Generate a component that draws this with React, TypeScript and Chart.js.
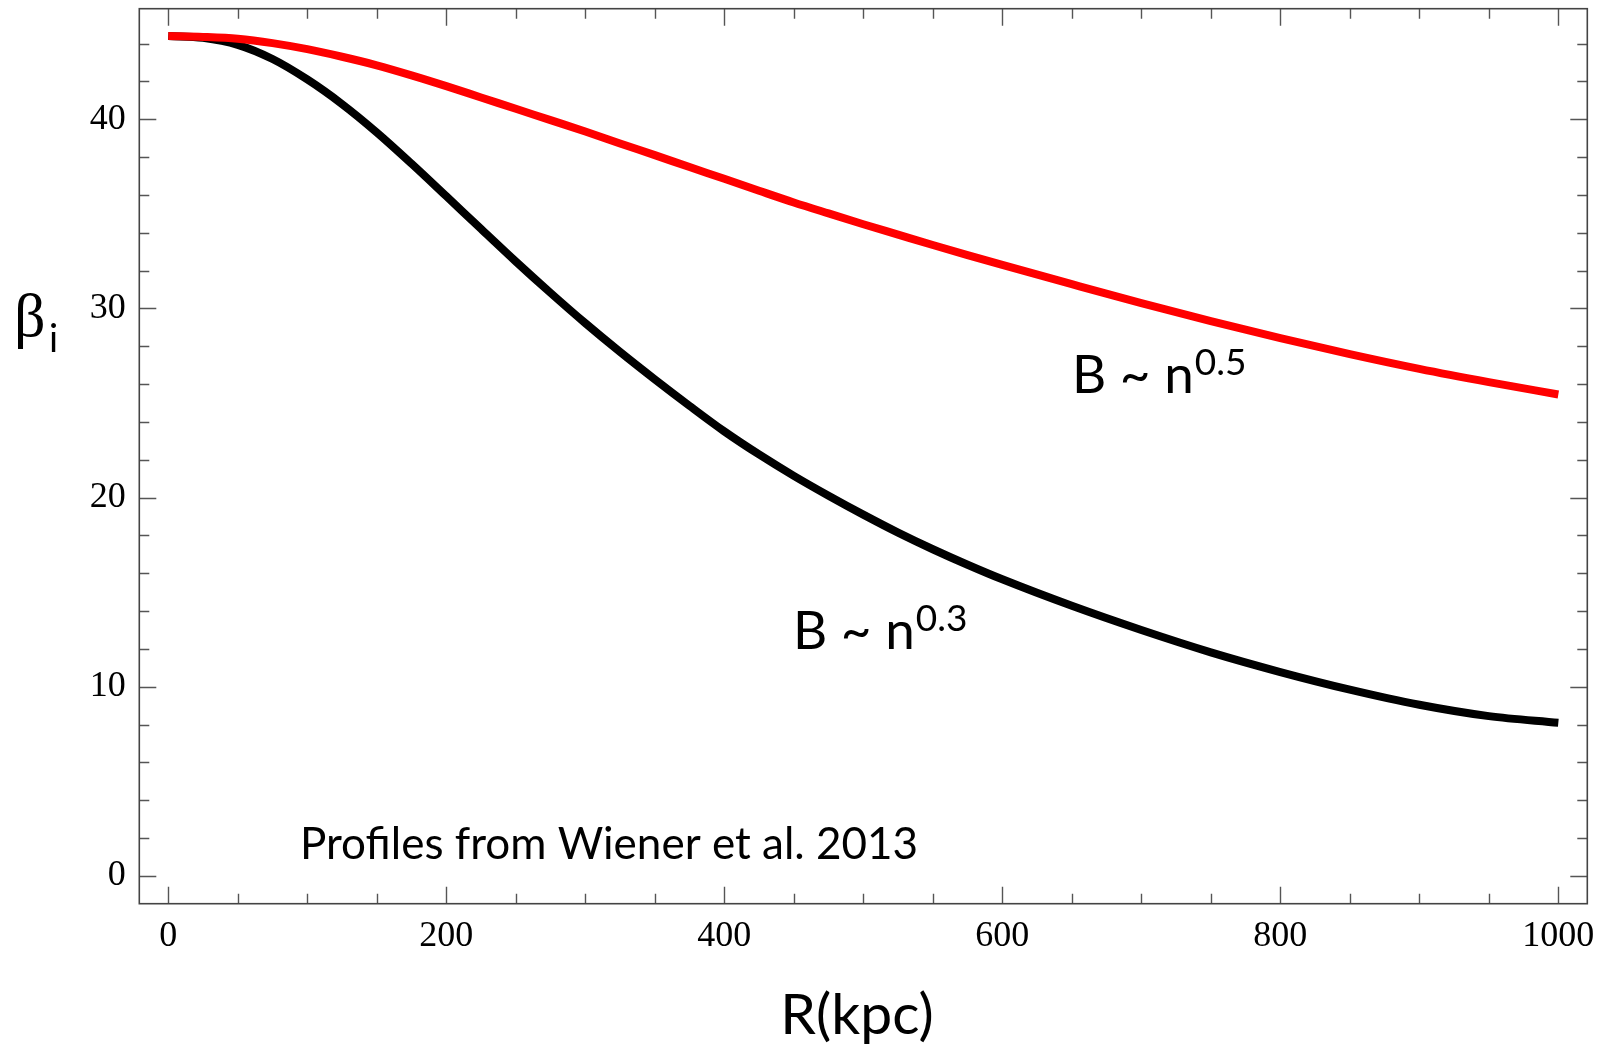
import React, { useEffect, useRef } from "react";
import { Chart, registerables } from "chart.js";

Chart.register(...registerables);

// Radius (kpc)
const radiusKpc = [
  0, 25, 50, 75, 100, 125, 150, 175, 200, 225, 250, 275, 300, 325, 350, 375, 400,
  425, 450, 475, 500, 525, 550, 575, 600, 650, 700, 750, 800, 850, 900, 950, 1000,
];
// beta_i for B ~ n^0.5 (red)
const betaN05 = [
  44.4, 44.35, 44.25, 44.02, 43.7, 43.3, 42.85, 42.32, 41.75, 41.15, 40.55, 39.95,
  39.35, 38.72, 38.1, 37.47, 36.85, 36.22, 35.6, 35.02, 34.45, 33.9, 33.35, 32.82,
  32.3, 31.28, 30.28, 29.33, 28.43, 27.58, 26.8, 26.1, 25.45,
];
// beta_i for B ~ n^0.3 (black)
const betaN03 = [
  44.4, 44.3, 43.93, 43.18, 42.1, 40.8, 39.3, 37.65, 35.93, 34.2, 32.48, 30.82,
  29.22, 27.7, 26.25, 24.85, 23.5, 22.28, 21.15, 20.1, 19.1, 18.15, 17.27, 16.45,
  15.68, 14.28, 13.0, 11.82, 10.78, 9.85, 9.05, 8.45, 8.1,
];

const xTickLabels = [0, 200, 400, 600, 800, 1000];
const yTickLabels = [0, 10, 20, 30, 40];
const xMinorTicks = [
  0, 50, 100, 150, 200, 250, 300, 350, 400, 450, 500, 550, 600, 650, 700, 750,
  800, 850, 900, 950, 1000,
];
const yMinorTicks = [
  0, 2, 4, 6, 8, 10, 12, 14, 16, 18, 20, 22, 24, 26, 28, 30, 32, 34, 36, 38, 40,
  42, 44,
];

const X_MIN = -20.84;
const X_MAX = 1020.84;
const Y_MIN = -1.464;
const Y_MAX = 45.84;

const framePlugin = {
  id: "mmaFrame",
  afterDraw(chart: any) {
    const { ctx, chartArea } = chart;
    const { left, right, top, bottom } = chartArea;
    const xs = chart.scales.x;
    const ys = chart.scales.y;
    ctx.save();
    ctx.lineWidth = 1.4;
    ctx.strokeStyle = "#555";
    ctx.beginPath();
    xMinorTicks.forEach((v) => {
      const px = Math.round(xs.getPixelForValue(v)) + 0.5;
      const len = xTickLabels.includes(v) ? 17 : 10;
      ctx.moveTo(px, bottom);
      ctx.lineTo(px, bottom - len);
      ctx.moveTo(px, top);
      ctx.lineTo(px, top + len);
    });
    yMinorTicks.forEach((v) => {
      const py = Math.round(ys.getPixelForValue(v)) + 0.5;
      const len = yTickLabels.includes(v) ? 17 : 10;
      ctx.moveTo(left, py);
      ctx.lineTo(left + len, py);
      ctx.moveTo(right, py);
      ctx.lineTo(right - len, py);
    });
    ctx.stroke();
    ctx.strokeStyle = "#444";
    ctx.lineWidth = 1.6;
    ctx.strokeRect(left, top, right - left, bottom - top);

    ctx.fillStyle = "#000";
    ctx.textBaseline = "alphabetic";
    ctx.textAlign = "left";

    // y axis title: beta_i
    ctx.font = "62px 'Liberation Serif'";
    ctx.fillText("β", 14, 336);
    ctx.font = "38px Lato";
    ctx.fillText("i", 49, 352);

    // x axis title
    ctx.textAlign = "center";
    ctx.font = "57px Lato";
    ctx.fillText("R(kpc)", 857, 1034);
    ctx.textAlign = "left";

    const drawPow = (x: number, y: number, base: string, sup: string) => {
      ctx.font = "53px Lato";
      ctx.fillText(base, x, y);
      const w = ctx.measureText(base).width;
      ctx.font = "37px Lato";
      ctx.fillText(sup, x + w + 1, y - 18);
    };
    drawPow(1072, 393, "B ~ n", "0.5");
    drawPow(793, 649, "B ~ n", "0.3");

    ctx.font = "44px Lato";
    ctx.fillText("Profiles from Wiener et al. 2013", 300, 859);
    ctx.restore();
  },
};

export default function App() {
  const canvasRef = useRef<HTMLCanvasElement | null>(null);

  useEffect(() => {
    document.body.style.margin = "0";
    const canvas = canvasRef.current;
    if (!canvas) return;
    const zeroPad = (s: any) => {
      s.paddingTop = 0;
      s.paddingBottom = 0;
      s.paddingLeft = 0;
      s.paddingRight = 0;
    };
    const chart = new Chart(canvas, {
      type: "line",
      data: {
        datasets: [
          {
            label: "B ~ n^0.5",
            data: radiusKpc.map((r, i) => ({ x: r, y: betaN05[i] })),
            borderColor: "#ff0000",
            borderWidth: 8,
            pointRadius: 0,
            cubicInterpolationMode: "monotone",
            fill: false,
          },
          {
            label: "B ~ n^0.3",
            data: radiusKpc.map((r, i) => ({ x: r, y: betaN03[i] })),
            borderColor: "#000000",
            borderWidth: 8,
            pointRadius: 0,
            cubicInterpolationMode: "monotone",
            fill: false,
          },
        ],
      },
      options: {
        animation: false,
        responsive: false,
        events: [],
        layout: { padding: { left: 0, top: 8.7, right: 16.7, bottom: 0 } },
        plugins: { legend: { display: false }, tooltip: { enabled: false } },
        scales: {
          x: {
            type: "linear",
            min: X_MIN,
            max: X_MAX,
            grid: { display: false, drawTicks: false },
            border: { display: false },
            afterBuildTicks: (s: any) => {
              s.ticks = xTickLabels.map((v) => ({ value: v }));
            },
            afterFit: (s: any) => {
              s.height = 141.3;
              zeroPad(s);
            },
            ticks: {
              autoSkip: false,
              maxRotation: 0,
              padding: 11,
              color: "#000",
              font: { family: "'Liberation Serif'", size: 36 },
              callback: (v: any) => String(v),
            },
          },
          y: {
            type: "linear",
            min: Y_MIN,
            max: Y_MAX,
            grid: { display: false, drawTicks: false },
            border: { display: false },
            afterBuildTicks: (s: any) => {
              s.ticks = yTickLabels.map((v) => ({ value: v }));
            },
            afterFit: (s: any) => {
              s.width = 139.3;
              zeroPad(s);
            },
            ticks: {
              autoSkip: false,
              padding: 13.6,
              color: "#000",
              font: { family: "'Liberation Serif'", size: 36 },
              callback: (v: any) => String(v),
            },
          },
        },
      },
      plugins: [framePlugin],
    });
    return () => chart.destroy();
  }, []);

  return (
    <div style={{ position: "absolute", left: 0, top: 0, width: 1604, height: 1045, background: "#fff" }}>
      <canvas ref={canvasRef} width={1604} height={1045} />
    </div>
  );
}
